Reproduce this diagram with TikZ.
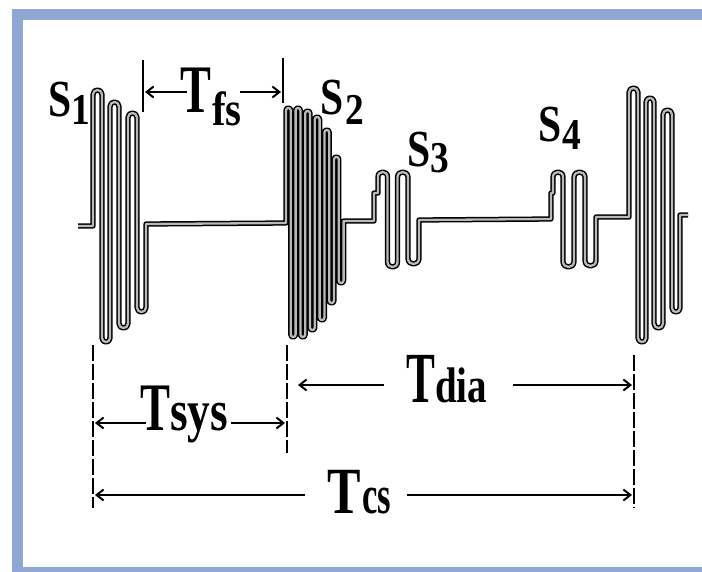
\documentclass[tikz,border=0pt]{standalone}
\usepackage{fontspec}
\setmainfont{Liberation Serif}
\usetikzlibrary{arrows.meta}
\definecolor{framecol}{RGB}{142,168,210}
\newcommand\wpk[3]{-- (#1,{#3+(#2-#1)/2}) .. controls (#1,{#3-(#2-#1)/6}) and (#2,{#3-(#2-#1)/6}) .. (#2,{#3+(#2-#1)/2})}
\newcommand\wtr[3]{-- (#1,{#3-(#2-#1)/2}) .. controls (#1,{#3+(#2-#1)/6}) and (#2,{#3+(#2-#1)/6}) .. (#2,{#3-(#2-#1)/2})}
\newcommand\lab[3]{\scalebox{#2}[1]{\fontsize{#1}{#1}\selectfont\bfseries #3}}
\begin{document}
\begin{tikzpicture}[x=1pt,y=-1pt,
  wave/.style={line width=1.5pt, double=gray!55, double distance=2.3pt, line join=round},
  dimline/.style={line width=2pt, -{Straight Barb[length=7pt,width=11pt]}},
  tickline/.style={line width=1.8pt},
  guide/.style={line width=1.7pt, dash pattern=on 16pt off 3pt},
  lbl/.style={anchor=base west, inner sep=0pt, outer sep=0pt}]
\useasboundingbox (0,0) rectangle (702,571);
\fill[white] (0,0) rectangle (702,571);
\draw[framecol, line width=11pt, line join=miter] (702,14.5) -- (17.5,14.5) -- (17.5,572.5) -- (702,572.5);

% waveform
\draw[wave] (78,226) -- (93,226)
  \wpk{93}{102}{90} \wtr{102}{110}{342} \wpk{110}{119}{102}
  \wtr{119}{128}{328} \wpk{128}{137}{113} \wtr{137}{146}{312}
  -- (146,224) -- (286,223)
  \wpk{286}{290.8}{108} \wtr{290.8}{295.6}{337} \wpk{295.6}{300.4}{108}
  \wtr{300.4}{305.2}{337} \wpk{305.2}{310}{111} \wtr{310}{314.8}{330}
  \wpk{314.8}{319.6}{117} \wtr{319.6}{324.4}{320} \wpk{324.4}{329.2}{130}
  \wtr{329.2}{334}{303} \wpk{334}{338.8}{157} \wtr{338.8}{343.6}{283}
  -- (343.6,221) -- (374,221) -- (374,193) -- (378,193)
  \wpk{378}{387.5}{172} \wtr{387.5}{397.5}{267} \wpk{397.5}{408}{172} \wtr{408}{419}{264}
  -- (419,220) -- (551,219) -- (551,193) -- (553,193)
  \wpk{553}{563}{172} \wtr{563}{574}{267} \wpk{574}{585}{172} \wtr{585}{596}{266}
  -- (596,217) -- (629,217)
  \wpk{629}{638}{88} \wtr{638}{646}{342} \wpk{646}{654}{98}
  \wtr{654}{663}{328} \wpk{663}{672}{110} \wtr{672}{680}{312}
  -- (680,215) -- (688,215);

% S labels
\node[lbl] (s1a) at (48,116) {\lab{52}{0.8}{S}};
\node[lbl] (s1b) at (71,124) {\lab{44}{0.85}{1}};
\node[lbl] (s2a) at (320,114) {\lab{52}{0.8}{S}};
\node[lbl] (s2b) at (345,124) {\lab{44}{0.85}{2}};
\node[lbl] (s3a) at (407,166) {\lab{52}{0.8}{S}};
\node[lbl] (s3b) at (430,172) {\lab{44}{0.85}{3}};
\node[lbl] (s4a) at (538,141) {\lab{52}{0.8}{S}};
\node[lbl] (s4b) at (562,149) {\lab{44}{0.85}{4}};

% Tfs
\coordinate (fsLt) at (143,60); \coordinate (fsLb) at (143,112);
\coordinate (fsRt) at (283,58); \coordinate (fsRb) at (283,103);
\draw[tickline] (fsLt) -- (fsLb);
\draw[tickline] (fsRt) -- (fsRb);
\node[lbl] (tfsT) at (180,112) {\lab{68}{0.68}{T}};
\node[lbl] (tfss) at (212,125) {\lab{48}{0.85}{fs}};
\coordinate (fsA) at (187,92); \coordinate (fsAh) at (145,92);
\coordinate (fsB) at (240,92); \coordinate (fsBh) at (281,92);
\draw[dimline] (fsA) -- (fsAh);
\draw[dimline] (fsB) -- (fsBh);

% guide lines
\coordinate (g1t) at (93,345); \coordinate (g1b) at (93,508);
\coordinate (g2t) at (287,345); \coordinate (g2b) at (287,453);
\coordinate (g3t) at (634,355); \coordinate (g3b) at (634,508);
\draw[guide] (g1t) -- (g1b);
\draw[guide] (g2t) -- (g2b);
\draw[guide] (g3t) -- (g3b);

% Tdia
\node[lbl] (tdiaT) at (406,402) {\lab{72}{0.6}{T}};
\node[lbl] (tdias) at (435,402) {\lab{50}{0.78}{dia}};
\coordinate (diaA) at (384,385); \coordinate (diaAh) at (298,385);
\coordinate (diaB) at (513,385); \coordinate (diaBh) at (632,385);
\draw[dimline] (diaA) -- (diaAh);
\draw[dimline] (diaB) -- (diaBh);

% Tsys
\node[lbl] (tsysT) at (140,430) {\lab{68}{0.66}{T}};
\node[lbl] (tsyss) at (170,430) {\lab{58}{0.78}{sys}};
\coordinate (sysA) at (146,423); \coordinate (sysAh) at (95,423);
\coordinate (sysB) at (231,423); \coordinate (sysBh) at (285,423);
\draw[dimline] (sysA) -- (sysAh);
\draw[dimline] (sysB) -- (sysBh);

% Tcs
\node[lbl] (tcsT) at (327,513) {\lab{66}{0.76}{T}};
\node[lbl] (tcss) at (362,513) {\lab{54}{0.64}{cs}};
\coordinate (csA) at (305,495); \coordinate (csAh) at (95,495);
\coordinate (csB) at (407,495); \coordinate (csBh) at (632,495);
\draw[dimline] (csA) -- (csAh);
\draw[dimline] (csB) -- (csBh);
\end{tikzpicture}
\end{document}
